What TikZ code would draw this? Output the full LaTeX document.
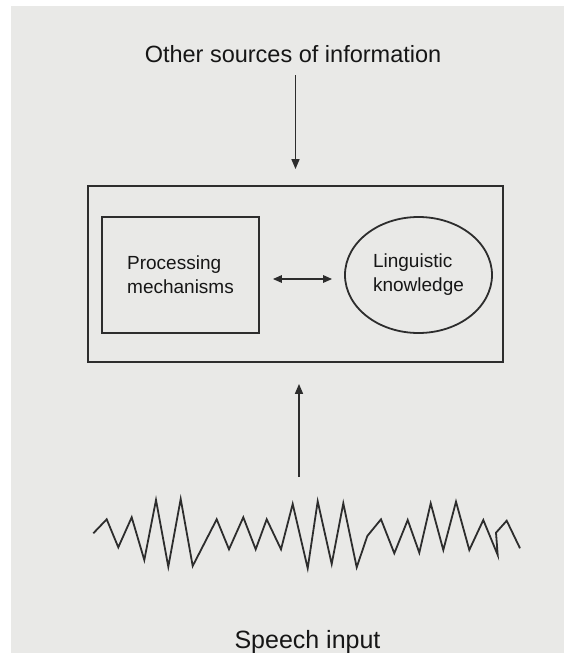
\documentclass[tikz,border=0pt]{standalone}
\usepackage{fontspec}
\setmainfont{Liberation Sans}
\usetikzlibrary{arrows.meta,shapes.geometric}
\definecolor{paper}{RGB}{233,233,231}
\definecolor{ink}{RGB}{45,45,45}
\definecolor{textink}{RGB}{22,22,22}
\tikzset{
  frame/.style={draw=ink, line width=1.8pt, inner sep=0pt},
  label/.style={text=textink, inner sep=0pt, align=left},
  arr/.style={draw=ink, line width=1.6pt, -{Triangle[length=10pt,width=8pt]}},
  dblarr/.style={draw=ink, line width=1.5pt, {Triangle[length=9pt,width=7.5pt]}-{Triangle[length=9pt,width=7.5pt]}},
  wave/.style={draw=ink, line width=1.8pt, line join=miter}
}
\begin{document}
\begin{tikzpicture}[x=1pt,y=-1pt]
  % page and scanned paper tone
  \fill[white] (0,0) rectangle (564,653);
  \fill[paper] (11,6) rectangle (564,653);
  \useasboundingbox (0,0) rectangle (564,653);

  % captions
  \node[label, anchor=base, font=\fontsize{23.5}{26}\selectfont] (others) at (293,62) {Other sources of information};
  \node[label, anchor=base, font=\fontsize{25}{28}\selectfont] (speech) at (307.5,648) {Speech input};

  % the processing system
  \node[frame, rectangle, minimum width=415pt, minimum height=176pt] (system) at (295.5,274) {};
  \node[frame, rectangle, minimum width=157pt, minimum height=116pt, label, font=\fontsize{19}{24}\selectfont] (proc) at (180.5,275) {Processing\\mechanisms};
  \node[frame, ellipse, minimum width=147pt, minimum height=116pt, label, font=\fontsize{19}{24}\selectfont] (know) at (418.5,275) {Linguistic\\knowledge};

  % interaction between processing and knowledge
  \draw[dblarr, shorten <=13pt, shorten >=12pt] ([yshift=-4pt]proc.east) -- ([yshift=-4pt]proc.east -| know.west);

  % input from other sources
  \draw[arr, shorten <=13pt, shorten >=16pt] (others.south -| system.north) -- (system.north);

  % speech waveform
  \draw[wave] (93.3,533.3) -- (106.7,519.3) -- (118.3,547.3) -- (131.7,517.3)
    -- (144.3,560) -- (156,500) -- (168.3,566.7) -- (180.7,499) -- (192.7,566)
    -- (216.7,519.3) -- (229,549.3) -- (243.3,517.3) -- (255.7,549.3)
    -- (266.7,519.3) -- (281,549.3) -- (292.7,504) -- (307.7,568.3)
    -- (317.7,501.3) -- (331.7,564) -- (343.3,503.3) -- (356.7,567.3)
    -- (367.3,536) -- (381,519.3) -- (394.3,553.3) -- (407.7,520)
    -- (419.3,552.7) -- (430.7,503.3) -- (443.3,550) -- (456,501.7)
    -- (469.3,550) -- (483.3,520) -- (497.7,555) -- (496,532.7)
    -- (506.7,520.7) -- (520,548.3);
  \coordinate (wavetop) at (299,477);

  % speech input feeding the system
  \draw[arr, shorten >=21pt] (wavetop) -- (wavetop |- system.south);
\end{tikzpicture}
\end{document}
